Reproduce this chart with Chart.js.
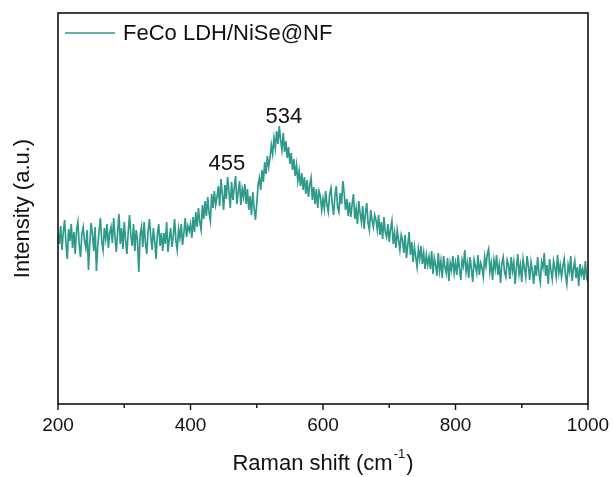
<!DOCTYPE html>
<html>
<head>
<meta charset="utf-8">
<script src="https://cdn.jsdelivr.net/npm/chart.js@4/dist/chart.umd.min.js"></script>
<style>
  html, body { margin: 0; padding: 0; background: #fff; }
  #box { width: 613px; height: 477px; }
</style>
</head>
<body>
<div id="box"><canvas id="myChart"></canvas></div>
<script>
// Raman spectrum (intensity is arbitrary units)
var seriesName = 'FeCo LDH/NiSe@NF';
var ramanStart = 200;   // cm-1
var ramanStep = 2;      // cm-1 per sample
var intensity = [
  171,160,178,154,172,184,161,145,175,163,180,156,172,150,174,182,159,147,170,177,
  163,156,174,134,161,181,170,153,177,133,158,173,186,163,154,176,165,180,156,171,
  177,161,186,167,152,173,190,160,176,155,182,164,150,172,189,168,158,180,153,174,
  164,132,169,177,157,182,161,150,173,185,168,154,176,163,145,170,180,158,171,153,
  171,160,182,152,165,176,157,168,185,163,154,175,166,180,159,171,186,167,178,173,
  180,166,187,172,192,177,196,182,174,199,185,203,188,207,191,183,210,196,213,199,
  207,218,198,225,210,194,219,205,227,213,196,222,204,216,228,200,212,223,199,215,
  207,220,200,215,194,208,189,212,196,184,200,219,226,214,234,222,242,230,248,237,
  246,259,250,266,256,273,260,278,264,254,271,252,263,246,257,240,251,234,245,228,
  239,223,233,218,231,214,227,210,224,207,219,226,204,217,200,215,196,213,208,194,
  205,195,213,199,192,210,216,200,189,208,218,197,192,211,200,223,211,194,205,188,
  202,187,200,210,185,195,180,203,191,182,198,175,190,201,181,174,194,184,177,189,
  184,174,189,169,182,165,187,172,167,180,162,175,183,160,171,156,174,164,154,169,
  164,151,169,146,159,172,149,162,142,157,147,137,155,145,158,140,151,135,149,139,
  147,135,153,130,146,139,128,151,133,143,126,148,137,131,146,123,141,134,148,131,
  141,129,149,135,124,144,138,154,132,141,126,147,135,122,144,138,131,149,129,141,
  136,127,147,138,150,155,132,141,124,144,135,149,129,139,121,141,147,132,127,144,
  139,125,147,133,142,120,136,150,130,139,122,145,136,127,148,138,124,142,133,120,
  139,128,147,131,122,142,136,151,128,139,120,145,134,125,143,136,127,149,131,139,
  127,137,145,129,120,139,132,148,123,135,143,126,137,118,140,129,135,124,143,126,
  122
];
var xTicks = [200, 400, 600, 800, 1000];
var peakText = ['455', '534'];
var peakX = [455, 541];
var peakY = [240, 287];

var fontName = '"Liberation Sans", Arial, Helvetica, sans-serif';
var lineColor = '#2e9a89';

var points = intensity.map(function(v, i) {
  return { x: ramanStart + i * ramanStep, y: v };
});

// frame, tick marks, legend, peak labels, x title with superscript
var decor = {
  id: 'decor',
  afterDraw: function(chart) {
    var ctx = chart.ctx;
    var a = chart.chartArea;
    var xs = chart.scales.x;
    var ys = chart.scales.y;
    ctx.save();
    ctx.strokeStyle = '#111';
    ctx.lineWidth = 1.6;
    ctx.strokeRect(a.left, a.top, a.right - a.left, a.bottom - a.top);

    ctx.lineWidth = 1.4;
    xs.ticks.forEach(function(t) {
      var px = xs.getPixelForValue(t.value);
      var len = (xTicks.indexOf(t.value) >= 0) ? 6 : 4;
      ctx.beginPath();
      ctx.moveTo(px, a.bottom);
      ctx.lineTo(px, a.bottom + len);
      ctx.stroke();
    });

    // legend
    var ds = chart.data.datasets[0];
    ctx.strokeStyle = ds.borderColor;
    ctx.lineWidth = 1.5;
    ctx.beginPath();
    ctx.moveTo(a.left + 7, a.top + 20);
    ctx.lineTo(a.left + 57, a.top + 20);
    ctx.stroke();
    ctx.fillStyle = '#111';
    ctx.font = '22px ' + fontName;
    ctx.textAlign = 'left';
    ctx.textBaseline = 'middle';
    ctx.fillText(ds.label, a.left + 65, a.top + 21);

    ctx.textAlign = 'center';
    for (var i = 0; i < peakText.length; i++) {
      ctx.fillText(peakText[i], xs.getPixelForValue(peakX[i]), ys.getPixelForValue(peakY[i]));
    }

    // Raman shift (cm-1)
    var mainPart = 'Raman shift (cm';
    var sup = '-1';
    var tail = ')';
    ctx.textBaseline = 'alphabetic';
    ctx.textAlign = 'left';
    ctx.font = '22px ' + fontName;
    var w1 = ctx.measureText(mainPart).width;
    var w3 = ctx.measureText(tail).width;
    ctx.font = '13px ' + fontName;
    var w2 = ctx.measureText(sup).width;
    var total = w1 + w2 + w3 + 2;
    var sx = (a.left + a.right) / 2 - total / 2;
    var base = 470;
    ctx.font = '22px ' + fontName;
    ctx.fillText(mainPart, sx, base);
    ctx.font = '13px ' + fontName;
    ctx.fillText(sup, sx + w1 + 1, base - 12);
    ctx.font = '22px ' + fontName;
    ctx.fillText(tail, sx + w1 + w2 + 2, base);
    ctx.restore();
  }
};

var ctx = document.getElementById('myChart');
var myChart = new Chart(ctx, {
  type: 'line',
  data: {
    datasets: [{
      label: seriesName,
      data: points,
      borderColor: lineColor,
      backgroundColor: lineColor,
      borderWidth: 1.7,
      pointRadius: 0,
      tension: 0,
      fill: false
    }]
  },
  options: {
    responsive: true,
    maintainAspectRatio: false,
    animation: false,
    layout: { padding: { top: 13, right: 25, left: 0, bottom: 0 } },
    plugins: {
      legend: { display: false },
      tooltip: { enabled: false }
    },
    scales: {
      x: {
        type: 'linear',
        min: 200,
        max: 1000,
        grid: { display: false, drawTicks: false },
        border: { display: false },
        ticks: {
          stepSize: 100,
          autoSkip: false,
          maxRotation: 0,
          padding: 10,
          color: '#111',
          font: { family: fontName, size: 19 },
          callback: function(v) { return xTicks.indexOf(v) >= 0 ? v : ''; }
        },
        afterFit: function(scale) {
          scale.height = 73;
          scale.paddingLeft = 0;
          scale.paddingRight = 0;
        }
      },
      y: {
        min: 0,
        max: 391,
        grid: { display: false, drawTicks: false },
        border: { display: false },
        ticks: { display: false },
        title: {
          display: true,
          text: 'Intensity (a.u.)',
          color: '#111',
          padding: { top: 10, bottom: 0 },
          font: { family: fontName, size: 22 }
        },
        afterFit: function(scale) { scale.width = 58; }
      }
    }
  },
  plugins: [decor]
});
</script>
</body>
</html>
